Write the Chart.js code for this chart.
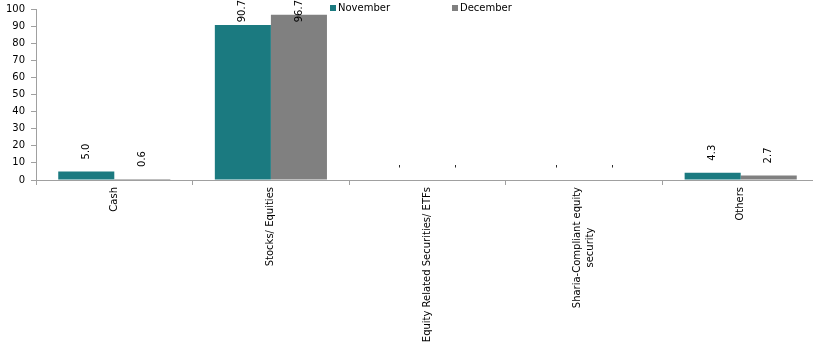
<!DOCTYPE html>
<html>
<head>
<meta charset="utf-8">
<script src="https://cdn.jsdelivr.net/npm/chart.js@4.4.1/dist/chart.umd.min.js"></script>
<style>
  html, body { margin: 0; padding: 0; background: #fff; overflow: hidden; }
  #wrap { width: 819px; height: 349px; }
</style>
</head>
<body>
<div id="wrap"><canvas id="chart" width="819" height="349"></canvas></div>
<script>
// data
const categories = [
  ['Cash'],
  ['Stocks/ Equities'],
  ['Equity Related Securities/ ETFs'],
  ['Sharia-Compliant equity', 'security'],
  ['Others']
];
const seriesNames = ['November', 'December'];
const novemberValues = [5.0, 90.7, 0, 0, 4.3];
const decemberValues = [0.6, 96.7, 0, 0, 2.7];
const yTicks = [0, 10, 20, 30, 40, 50, 60, 70, 80, 90, 100];

const TEAL = '#1b7a80';
const GREY = '#808080';
const AXIS = '#a0a0a0';
const FONT = '"DejaVu Sans", Verdana, sans-serif';

// rotated value labels above each bar, "-" for zero
const valueLabels = {
  id: 'valueLabels',
  afterDatasetsDraw(chart) {
    const ctx = chart.ctx;
    ctx.save();
    ctx.font = '10px ' + FONT;
    ctx.fillStyle = '#000';
    chart.data.datasets.forEach((ds, di) => {
      chart.getDatasetMeta(di).data.forEach((bar, i) => {
        const v = ds.data[i];
        const txt = v === 0 ? '-' : v.toFixed(1);
        const w = ctx.measureText(txt).width;
        let start = bar.y - 12;
        if (start - w < 0) start = w;
        ctx.save();
        ctx.translate(bar.x, start);
        ctx.rotate(-Math.PI / 2);
        ctx.textAlign = 'left';
        ctx.textBaseline = 'middle';
        ctx.fillText(txt, 0, 0);
        ctx.restore();
      });
    });
    ctx.restore();
  }
};

// category labels, rotated, lines centred on each other
const catLabels = {
  id: 'catLabels',
  afterDraw(chart) {
    const ctx = chart.ctx;
    const xs = chart.scales.x;
    const top = xs.top + 7;
    ctx.save();
    ctx.font = '10px ' + FONT;
    ctx.fillStyle = '#000';
    categories.forEach((lines, i) => {
      const x = xs.getPixelForValue(i);
      const maxW = Math.max(...lines.map(l => ctx.measureText(l).width));
      ctx.save();
      ctx.translate(x, top);
      ctx.rotate(-Math.PI / 2);
      ctx.textAlign = 'center';
      ctx.textBaseline = 'middle';
      lines.forEach((l, j) => {
        ctx.fillText(l, -maxW / 2, (j - (lines.length - 1) / 2) * 13);
      });
      ctx.restore();
    });
    ctx.restore();
  }
};

// excel style legend at the top
const topLegend = {
  id: 'topLegend',
  afterDraw(chart) {
    const ctx = chart.ctx;
    const spots = [330, 452];
    ctx.save();
    ctx.font = '10px ' + FONT;
    ctx.textBaseline = 'middle';
    chart.data.datasets.forEach((ds, i) => {
      ctx.fillStyle = ds.backgroundColor;
      ctx.fillRect(spots[i], 5, 6, 6);
      ctx.fillStyle = '#000';
      ctx.fillText(ds.label, spots[i] + 8, 8.5);
    });
    ctx.restore();
  }
};

new Chart(document.getElementById('chart'), {
  type: 'bar',
  data: {
    labels: categories.map(c => c.join(' ')),
    datasets: [
      { label: seriesNames[0], data: novemberValues, backgroundColor: TEAL },
      { label: seriesNames[1], data: decemberValues, backgroundColor: GREY }
    ]
  },
  options: {
    responsive: false,
    animation: false,
    layout: { padding: { top: 9, right: 0, left: 0, bottom: 0 } },
    datasets: { bar: { categoryPercentage: 0.716, barPercentage: 1.0 } },
    plugins: { legend: { display: false }, tooltip: { enabled: false } },
    scales: {
      x: {
        offset: true,
        grid: { offset: true, drawOnChartArea: false, drawTicks: true, tickLength: 5, color: AXIS },
        border: { color: AXIS },
        ticks: { display: false },
        afterFit: s => { s.height = 169; }
      },
      y: {
        min: 0,
        max: 100,
        afterBuildTicks: s => { s.ticks = yTicks.map(v => ({ value: v })); },
        grid: { drawOnChartArea: false, drawTicks: true, tickLength: 5, color: AXIS },
        border: { color: AXIS },
        ticks: { font: { family: FONT, size: 10 }, color: '#000', padding: 6 },
        afterFit: s => { s.width = 36; s.paddingTop = 0; s.paddingBottom = 0; }
      }
    }
  },
  plugins: [valueLabels, catLabels, topLegend]
});
</script>
</body>
</html>
